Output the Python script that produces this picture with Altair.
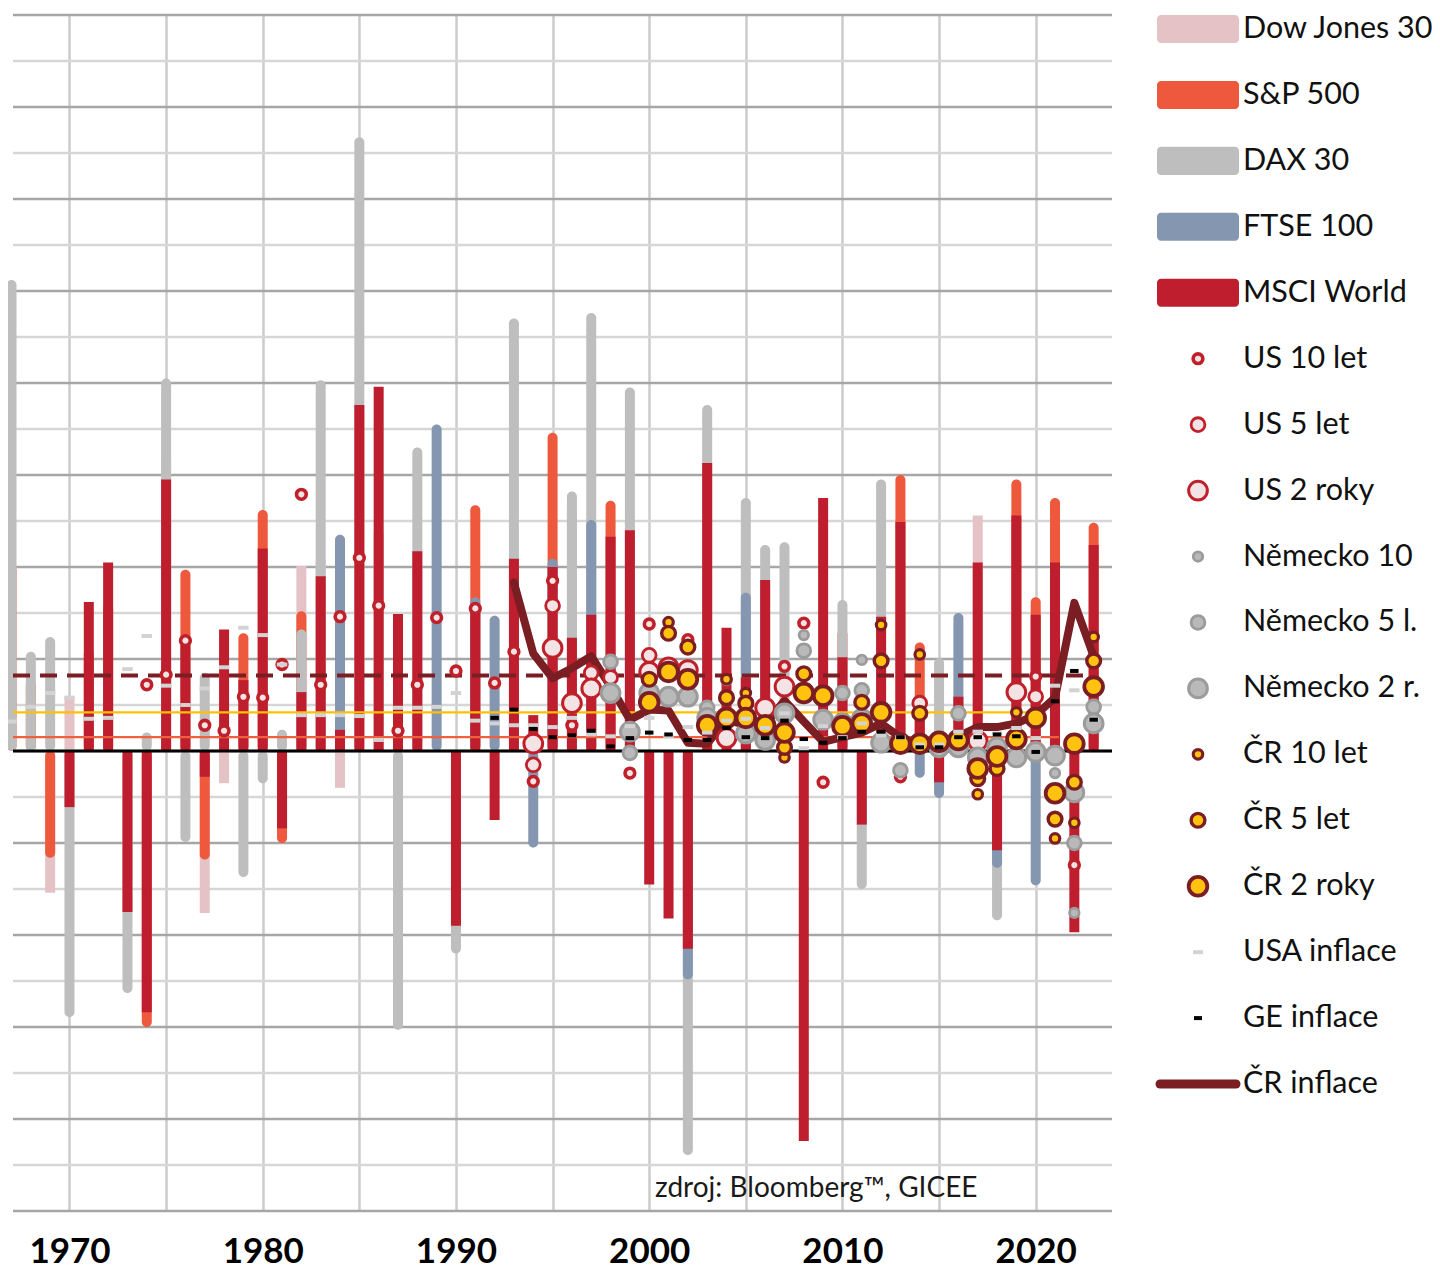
import altair as alt
import pandas as pd

# ---------------- data (annual returns / yields in %) ----------------
dow_jones = {1969: -15.4, 1970: 5.9, 1975: 32.0, 1977: -17.6, 1978: -3.5, 1982: 20.1,
             1983: 20.8, 1984: -4.0, 1986: 23.7, 1996: 26.5, 2017: 25.6}
sp500 = {1967: 20.2, 1968: 7.7, 1969: -11.6, 1971: 11.0, 1972: 16.0, 1974: -30.0, 1976: 19.7,
         1977: -11.8, 1979: 12.8, 1980: 26.2, 1981: -10.0, 1982: 15.2, 1991: 26.7, 1995: 34.6,
         1998: 27.2, 2010: 13.2, 2013: 30.0, 2014: 11.8, 2019: 29.5, 2020: 16.7, 2021: 27.5,
         2023: 24.8}
dax30 = {1967: 51.2, 1968: 10.8, 1969: 12.4, 1970: -28.9, 1973: -26.3, 1974: 2.0, 1975: 40.5,
         1976: -9.9, 1977: 8.5, 1979: -13.7, 1980: -3.5, 1981: 2.3, 1982: 13.2, 1983: 40.3,
         1985: 66.7, 1987: -30.3, 1988: 33.0, 1990: -22.0, 1993: 47.0, 1996: 28.2, 1997: 47.6,
         1999: 39.5, 2002: -43.9, 2003: 37.6, 2005: 27.5, 2006: 22.4, 2007: 22.7, 2010: 16.4,
         2011: -15.0, 2012: 29.5, 2015: 10.1, 2018: -18.4}
ftse100 = {1984: 23.5, 1989: 35.5, 1991: 16.7, 1992: 14.7, 1994: -10.5, 1995: 20.9, 1997: 25.1,
           2002: -24.8, 2005: 17.2, 2014: -2.9, 2015: -5.1, 2016: 15.0, 2018: -12.7, 2020: -14.6}
msci_world = {1970: -6.1, 1971: 16.2, 1972: 20.5, 1973: -17.5, 1974: -28.4, 1975: 29.5,
              1976: 11.5, 1977: -2.8, 1978: 13.2, 1979: 7.7, 1980: 22.0, 1981: -8.4, 1982: 6.4,
              1983: 19.0, 1984: 2.3, 1985: 37.6, 1986: 39.6, 1987: 14.9, 1988: 21.7, 1990: -19.0,
              1991: 15.5, 1992: -7.5, 1993: 20.9, 1994: 3.9, 1995: 20.0, 1996: 12.3, 1997: 14.8,
              1998: 23.3, 1999: 24.0, 2000: -14.5, 2001: -18.2, 2002: -21.5, 2003: 31.3,
              2004: 13.4, 2005: 8.0, 2006: 18.6, 2008: -42.4, 2009: 27.5, 2010: 10.2,
              2011: -8.0, 2012: 14.6, 2013: 24.9, 2014: 5.3, 2015: -3.4, 2016: 5.9, 2017: 20.5,
              2018: -10.8, 2019: 25.6, 2020: 14.8, 2021: 20.5, 2022: -19.7, 2023: 22.4}

us_10 = {1974: 7.2, 1975: 8.3, 1976: 12.0, 1977: 2.8, 1978: 2.2, 1979: 5.9, 1980: 5.8, 1981: 9.4,
         1982: 27.9, 1983: 7.2, 1984: 14.6, 1985: 21.0, 1986: 15.8, 1987: 2.2, 1988: 7.2,
         1989: 14.5, 1990: 8.7, 1991: 15.5, 1992: 7.4, 1993: 10.8, 1994: -3.3, 1995: 18.5,
         1996: 2.8, 1999: -2.4, 2000: 13.8, 2002: 12.1, 2007: 9.2, 2008: 13.9, 2009: -3.4,
         2013: -2.8, 2020: 8.1, 2022: -12.4}
us_5 = {1994: -1.5, 1995: 15.8, 1997: 8.5, 1998: 8.0, 2000: 10.4, 2014: 5.2, 2020: 5.9}
us_2 = {1994: 0.8, 1995: 11.2, 1996: 5.2, 1997: 6.8, 2000: 8.6, 2001: 9.1, 2002: 8.8, 2004: 1.4,
        2006: 4.7, 2007: 7.0, 2017: 1.1, 2019: 6.4}
de_10 = {2004: 7.7, 2008: 12.6, 2011: 9.9, 2021: -2.4, 2022: -17.6}
de_5 = {1998: 9.7, 1999: -0.2, 2003: 4.7, 2008: 10.9, 2010: 6.3, 2011: 6.6, 2013: -2.1,
        2016: 4.1, 2022: -10.0, 2023: 4.8}
de_2 = {1998: 6.3, 1999: 2.1, 2000: 6.3, 2001: 5.9, 2002: 5.9, 2003: 3.6, 2005: 1.9, 2006: 1.2,
        2007: 4.1, 2009: 3.4, 2010: 3.0, 2011: 3.5, 2012: 0.9, 2014: 0.8, 2015: 0.4, 2016: 0.4,
        2017: -0.7, 2018: 0.4, 2019: -0.7, 2020: -0.1, 2021: -0.5, 2022: -4.5, 2023: 3.0}
cz_10 = {2001: 14.0, 2004: 7.8, 2005: 6.3, 2007: -0.7, 2012: 13.7, 2014: 10.5, 2017: -4.7,
         2019: 4.2, 2021: -9.5, 2022: -7.8, 2023: 12.4}
cz_5 = {2000: 7.8, 2001: 12.8, 2002: 11.3, 2004: 5.8, 2005: 5.2, 2007: 0.4, 2008: 8.4,
        2011: 5.3, 2012: 9.8, 2014: 4.1, 2017: -3.0, 2018: -1.9, 2021: -7.4, 2022: -3.4,
        2023: 9.8}
cz_2 = {2000: 5.3, 2001: 8.6, 2002: 7.8, 2003: 2.8, 2004: 3.6, 2005: 3.6, 2006: 2.8, 2007: 2.0,
        2008: 6.3, 2009: 6.0, 2010: 2.7, 2011: 3.0, 2012: 4.2, 2013: 0.8, 2014: 0.8, 2015: 1.0,
        2016: 1.2, 2017: -1.9, 2018: -0.6, 2019: 1.3, 2020: 3.6, 2021: -4.6, 2022: 0.8,
        2023: 7.0}

usa_inflace = {1967: 3.2, 1968: 4.8, 1969: 6.3, 1970: 5.8, 1971: 3.5, 1972: 3.6, 1973: 8.9,
               1974: 12.5, 1975: 7.1, 1976: 5.0, 1977: 6.8, 1978: 9.1, 1979: 13.4, 1980: 12.6,
               1981: 9.4, 1982: 3.9, 1983: 3.9, 1984: 3.9, 1985: 3.8, 1986: 1.2, 1987: 4.7,
               1988: 4.7, 1989: 4.8, 1990: 6.3, 1991: 3.3, 1992: 3.0, 1993: 2.8, 1994: 2.8,
               1995: 2.6, 1996: 3.6, 1997: 1.8, 1998: 1.6, 1999: 2.7, 2000: 3.6, 2001: 1.6,
               2002: 2.6, 2003: 2.0, 2004: 3.3, 2005: 3.5, 2006: 2.5, 2007: 4.1, 2008: 0.3,
               2009: 2.7, 2010: 1.5, 2011: 3.0, 2012: 1.7, 2013: 1.5, 2014: 0.7, 2015: 0.7,
               2016: 2.1, 2017: 2.1, 2018: 1.9, 2019: 2.5, 2020: 1.4, 2021: 7.1, 2022: 6.6,
               2023: 3.4}
ge_inflace = {1992: 3.6, 1993: 4.5, 1994: 2.4, 1995: 1.5, 1996: 1.7, 1997: 2.2, 1998: 0.5,
              1999: 1.4, 2000: 2.0, 2001: 1.8, 2002: 1.2, 2003: 1.2, 2004: 2.5, 2005: 1.5,
              2006: 1.4, 2007: 3.3, 2008: 1.3, 2009: 0.9, 2010: 1.4, 2011: 2.1, 2012: 2.1,
              2013: 1.5, 2014: 0.4, 2015: 0.4, 2016: 1.5, 2017: 1.5, 2018: 1.8, 2019: 1.6,
              2020: -0.1, 2021: 5.4, 2022: 8.7, 2023: 3.4}
cr_inflace = {1993: 18.3, 1994: 10.6, 1995: 7.9, 1996: 9.0, 1997: 10.3, 1998: 7.0, 1999: 3.4,
              2000: 4.5, 2001: 4.4, 2002: 0.9, 2003: 0.8, 2004: 3.4, 2005: 2.8, 2006: 2.9,
              2007: 5.5, 2008: 3.2, 2009: 1.0, 2010: 1.5, 2011: 2.0, 2012: 3.0, 2013: 1.5,
              2014: 0.6, 2015: 0.9, 2016: 1.6, 2017: 2.6, 2018: 2.6, 2019: 3.0, 2020: 3.9,
              2021: 5.8, 2022: 16.1, 2023: 10.3}

# horizontal reference lines: level and the year where they stop
ref_dashed = (8.2, 2022.5)
ref_yellow = (4.2, 2020.4)
ref_orange = (1.5, 2021.2)

x_ticks = list(range(1970, 2021, 5))
y_ticks = list(range(-50, 81, 5))
source_text = "zdroj: Bloomberg™, GICEE"

legend_labels = ["Dow Jones 30", "S&P 500", "DAX 30", "FTSE 100", "MSCI World",
                 "US 10 let", "US 5 let", "US 2 roky", "Německo 10", "Německo 5 l.",
                 "Německo 2 r.", "ČR 10 let", "ČR 5 let", "ČR 2 roky", "USA inflace",
                 "GE inflace", "ČR inflace"]

# ---------------- styles ----------------
W, H = 1109, 1196          # plot area
X0 = 1967.077
X1 = X0 + W / 19.5
Y0, Y1 = -50, 80
MAROON = "#7b1e24"
C_DJ, C_SP, C_DAX, C_FTSE, C_MSCI = "#e4c2c5", "#ee583c", "#bebebe", "#8496b0", "#be1e2d"
US_FILL, US_STROKE = "#f3e3e5", "#c0202a"
DE_FILL, DE_STROKE = "#b9b9b9", "#9b9b9b"
CZ_FILL, CZ_STROKE = "#ffc20e", MAROON
bond_styles = {
    "US 10 let": (US_FILL, US_STROKE, 95, 3.6), "US 5 let": (US_FILL, US_STROKE, 190, 2.8),
    "US 2 roky": (US_FILL, US_STROKE, 350, 3.0),
    "Německo 10": (DE_FILL, DE_STROKE, 90, 2.8), "Německo 5 l.": (DE_FILL, DE_STROKE, 190, 2.8),
    "Německo 2 r.": (DE_FILL, DE_STROKE, 350, 3.0),
    "ČR 10 let": (CZ_FILL, CZ_STROKE, 90, 3.2), "ČR 5 let": (CZ_FILL, CZ_STROKE, 190, 3.4),
    "ČR 2 roky": (CZ_FILL, CZ_STROKE, 350, 3.8),
}
FONT = "Lato"

xs = alt.Scale(domain=[X0, X1], nice=False, zero=False)
ys = alt.Scale(domain=[Y0, Y1], nice=False, zero=False)
X_AXIS = alt.Axis(values=x_ticks, grid=True, gridColor="#cbcbcb", gridWidth=2.5,
                  labelExpr="datum.value % 10 === 0 ? datum.label : ''", format="d",
                  labelFont=FONT, labelFontWeight="bold", labelFontSize=35, labelColor="#000000",
                  labelBaseline="alphabetic", labelPadding=51, labelOverlap=False,
                  labelFlush=False, ticks=False, tickSize=0, domain=False, title=None)


def to_df(d, name=""):
    return pd.DataFrame({"year": list(d.keys()), "value": list(d.values()), "series": name})


def X(field):
    return alt.X(field, type="quantitative", scale=xs, axis=X_AXIS)


def Y(field):
    return alt.Y(field, type="quantitative", scale=ys, axis=None)


# horizontal grid lines (darker every 10 %), the x axis carries the vertical grid
grid = pd.DataFrame({"value": y_ticks})
grid["start"], grid["end"] = X0, X1
grid["color"] = ["#a6a6a6" if v % 10 == 0 else "#d6d6d6" for v in y_ticks]
layers = [alt.Chart(grid).mark_rule(strokeWidth=2.5).encode(
    x=X("start"), x2="end", y=Y("value"), color=alt.Color("color:N", scale=None))]


def bars(d, color, rounded):
    kw = {"cornerRadiusEnd": 5} if rounded else {}
    return alt.Chart(to_df(d)).mark_bar(width=10, color=color, **kw).encode(
        x=X("year"), y=Y("value"), y2=alt.datum(0))


layers += [
    bars(dow_jones, C_DJ, False),
    bars(sp500, C_SP, True),
    bars(dax30, C_DAX, True),
    bars(ftse100, C_FTSE, True),
    bars(msci_world, C_MSCI, False),
]

refs = pd.DataFrame({
    "start": [X0, X0, X0, X0],
    "end": [ref_yellow[1], ref_orange[1], ref_dashed[1], X1],
    "value": [ref_yellow[0], ref_orange[0], ref_dashed[0], 0.0],
    "kind": ["yellow", "orange", "dashed", "zero"],
})
ref_style = {"yellow": dict(color="#ffc000", strokeWidth=2.2),
             "orange": dict(color="#f0603f", strokeWidth=2.2),
             "dashed": dict(color=MAROON, strokeWidth=4, strokeDash=[17, 10]),
             "zero": dict(color="#000000", strokeWidth=3)}
for k, st in ref_style.items():
    layers.append(alt.Chart(refs[refs.kind == k]).mark_rule(**st).encode(
        x=X("start"), x2="end", y=Y("value")))

layers.append(alt.Chart(to_df(cr_inflace)).mark_line(
    color=MAROON, strokeWidth=8, strokeJoin="round", strokeCap="round").encode(
    x=X("year"), y=Y("value")))

bond_sources = [("US 10 let", us_10), ("US 5 let", us_5), ("US 2 roky", us_2),
                ("Německo 10", de_10), ("Německo 5 l.", de_5), ("Německo 2 r.", de_2),
                ("ČR 10 let", cz_10), ("ČR 5 let", cz_5), ("ČR 2 roky", cz_2)]
bond_df = pd.concat([to_df(d, n) for n, d in bond_sources], ignore_index=True)
bond_df["fill"] = bond_df.series.map(lambda s: bond_styles[s][0])
bond_df["stroke"] = bond_df.series.map(lambda s: bond_styles[s][1])
bond_df["size"] = bond_df.series.map(lambda s: bond_styles[s][2])
bond_df["sw"] = bond_df.series.map(lambda s: bond_styles[s][3])
layers.append(alt.Chart(bond_df).mark_point(shape="circle", filled=True, opacity=1).encode(
    x=X("year"), y=Y("value"),
    fill=alt.Fill("fill:N", scale=None), stroke=alt.Stroke("stroke:N", scale=None),
    size=alt.Size("size:Q", scale=None), strokeWidth=alt.StrokeWidth("sw:Q", scale=None)))

for d, color, w in [(usa_inflace, "#d3d3d3", 0.27), (ge_inflace, "#000000", 0.22)]:
    layers.append(alt.Chart(to_df(d)).transform_calculate(
        xa=f"datum.year - {w}", xb=f"datum.year + {w}").mark_rule(
        color=color, strokeWidth=4).encode(x=X("xa:Q"), x2="xb:Q", y=Y("value")))

layers.append(alt.Chart(pd.DataFrame({"t": [source_text]})).mark_text(
    align="left", baseline="alphabetic", font=FONT, fontSize=28, color="#1a1a1a").encode(
    x=alt.X(datum=2000.3, scale=xs, axis=X_AXIS), y=alt.Y(datum=-48.5, scale=ys, axis=None),
    text="t:N"))

main = alt.layer(*layers)

# ---------------- legend (own scales, drawn to the right of the plot) ----------------
LEG_LEFT = 1142            # px from the plot's left edge
ROW = 65.94
lx = alt.Scale(domain=[-LEG_LEFT, W - LEG_LEFT], nice=False, zero=False)
ly = alt.Scale(domain=[-14 / ROW, (H - 14) / ROW], nice=False, zero=False, reverse=True)
leg = pd.DataFrame({"row": list(range(len(legend_labels))), "label": legend_labels})
leg["top"] = leg.row - 0.213
leg["bot"] = leg.row + 0.213

swatch_colors = [C_DJ, C_SP, C_DAX, C_FTSE, C_MSCI]
sw = leg.iloc[:5].copy()
sw["color"] = swatch_colors
sw["x1"], sw["x2"] = 7, 89
leg_layers = [
    alt.Chart(sw).mark_rect(cornerRadius=4).encode(
        x=alt.X("x1:Q", scale=lx, axis=None), x2="x2:Q",
        y=alt.Y("top:Q", scale=ly, axis=None), y2="bot:Q",
        color=alt.Color("color:N", scale=None)),
]
circ = leg.iloc[5:14].copy()
circ["fill"] = circ.label.map(lambda s: bond_styles[s][0])
circ["stroke"] = circ.label.map(lambda s: bond_styles[s][1])
circ["size"] = circ.label.map(lambda s: bond_styles[s][2])
circ["sw"] = circ.label.map(lambda s: bond_styles[s][3])
circ["cx"] = 48
leg_layers.append(alt.Chart(circ).mark_point(shape="circle", filled=True, opacity=1).encode(
    x=alt.X("cx:Q", scale=lx, axis=None), y=alt.Y("row:Q", scale=ly, axis=None),
    fill=alt.Fill("fill:N", scale=None), stroke=alt.Stroke("stroke:N", scale=None),
    size=alt.Size("size:Q", scale=None), strokeWidth=alt.StrokeWidth("sw:Q", scale=None)))
dash = leg.iloc[14:16].copy()
dash["color"] = ["#d3d3d3", "#000000"]
dash["xa"], dash["xb"] = [43, 44], [53, 52]
leg_layers.append(alt.Chart(dash).mark_rule(strokeWidth=4).encode(
    x=alt.X("xa:Q", scale=lx, axis=None), x2="xb:Q", y=alt.Y("row:Q", scale=ly, axis=None),
    color=alt.Color("color:N", scale=None)))
line = leg.iloc[16:17].copy()
line["xa"], line["xb"] = 10, 86
leg_layers.append(alt.Chart(line).mark_rule(strokeWidth=9, strokeCap="round", color=MAROON).encode(
    x=alt.X("xa:Q", scale=lx, axis=None), x2="xb:Q", y=alt.Y("row:Q", scale=ly, axis=None)))
leg_layers.append(alt.Chart(leg).mark_text(
    align="left", baseline="middle", font=FONT, fontSize=30.5, color="#111111").encode(
    x=alt.X(datum=93, scale=lx, axis=None), y=alt.Y("row:Q", scale=ly, axis=None),
    text="label:N"))
legend = alt.layer(*leg_layers)

chart = alt.layer(main, legend).resolve_scale(x="independent", y="independent").properties(
    width=W, height=H,
    autosize=alt.AutoSizeParams(type="none"),
    padding={"left": 0, "top": 7, "right": 315, "bottom": 58},
).configure_view(stroke=None)

chart.save("out.html", embed_options={"renderer": "svg", "actions": False})
